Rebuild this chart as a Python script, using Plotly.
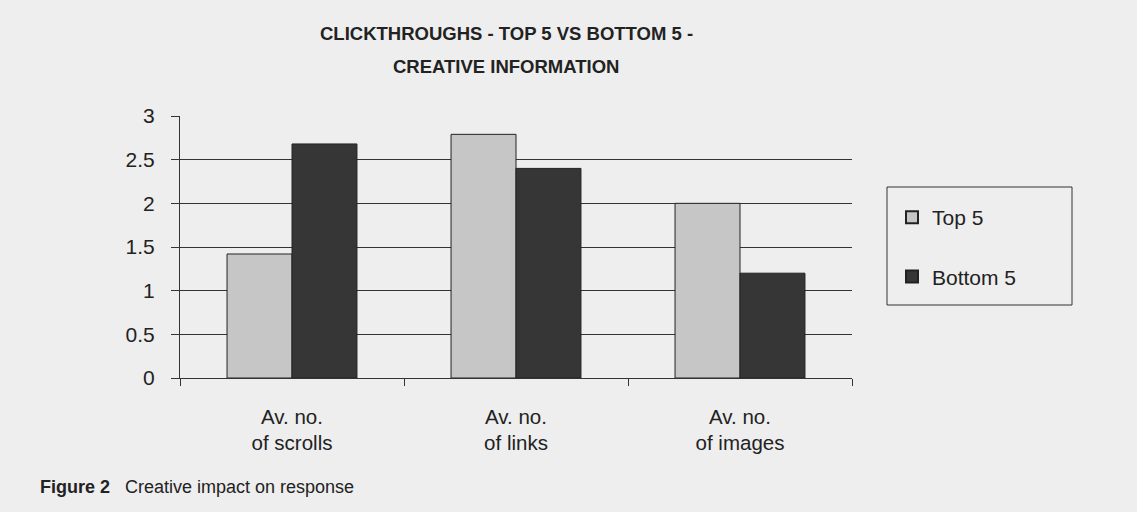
import plotly.graph_objects as go

categories = ["Av. no.<br>of scrolls", "Av. no.<br>of links", "Av. no.<br>of images"]
top5 = [1.42, 2.79, 2.0]
bottom5 = [2.68, 2.4, 1.2]
y_ticks = [0, 0.5, 1, 1.5, 2, 2.5, 3]
y_tick_labels = ["0", "0.5", "1", "1.5", "2", "2.5", "3"]

bg = "#eeeeee"
font_family = "Liberation Sans, Arial, sans-serif"

fig = go.Figure()
fig.add_trace(go.Bar(x=categories, y=top5, name="Top 5", legendgroup="a",
                     marker=dict(color="#c6c6c6", line=dict(color="#222", width=1))))
fig.add_trace(go.Bar(x=categories, y=bottom5, name="Bottom 5", legendgroup="b",
                     marker=dict(color="#363636", line=dict(color="#222", width=1))))

def px(xp):
    return (xp - 180) / 672

def py(yp):
    return (378 - yp) / 262

fig.update_layout(
    width=1137, height=512,
    margin=dict(l=180, r=285, t=116, b=134),
    paper_bgcolor=bg, plot_bgcolor=bg,
    font=dict(family=font_family, size=20, color="#222"),
    barmode="group", bargap=0.42, bargroupgap=0,
    showlegend=True,
    legend=dict(x=px(892), y=py(197), xanchor="left", yanchor="top",
                borderwidth=0, bgcolor="rgba(0,0,0,0)",
                font=dict(size=21), tracegroupgap=29,
                traceorder="grouped", itemsizing="constant"),
    xaxis=dict(showline=True, linecolor="#333", linewidth=1,
               ticks="outside", ticklen=7, tickcolor="#333",
               tickson="boundaries", showgrid=False,
               ticklabelstandoff=20,
               tickfont=dict(size=20.5)),
    yaxis=dict(range=[0, 3], tickvals=y_ticks, ticktext=y_tick_labels,
               showline=True, linecolor="#333", linewidth=1,
               ticks="outside", ticklen=8, tickcolor="#333",
               showgrid=True, gridcolor="#333", gridwidth=1,
               ticklabelstandoff=12,
               zeroline=False, tickfont=dict(size=21)),
)

fig.add_shape(type="rect", xref="paper", yref="paper",
              x0=px(887), x1=px(1072), y0=py(305), y1=py(187),
              line=dict(color="#333", width=1), fillcolor="rgba(0,0,0,0)")

fig.add_annotation(xref="paper", yref="paper", x=px(506), y=py(33),
                   text="<b>CLICKTHROUGHS - TOP 5 VS BOTTOM 5 -</b>", showarrow=False,
                   font=dict(size=18.5), xanchor="center", yanchor="middle")
fig.add_annotation(xref="paper", yref="paper", x=px(506), y=py(66),
                   text="<b>CREATIVE INFORMATION</b>", showarrow=False,
                   font=dict(size=18.5), xanchor="center", yanchor="middle")
fig.add_annotation(xref="paper", yref="paper", x=px(38), y=py(487),
                   text="<b>Figure 2</b>   Creative impact on response", showarrow=False,
                   font=dict(size=18), xanchor="left", yanchor="middle")

fig.write_html("out.html", post_script="document.body.style.margin='0';",
               config={"displayModeBar": False})
